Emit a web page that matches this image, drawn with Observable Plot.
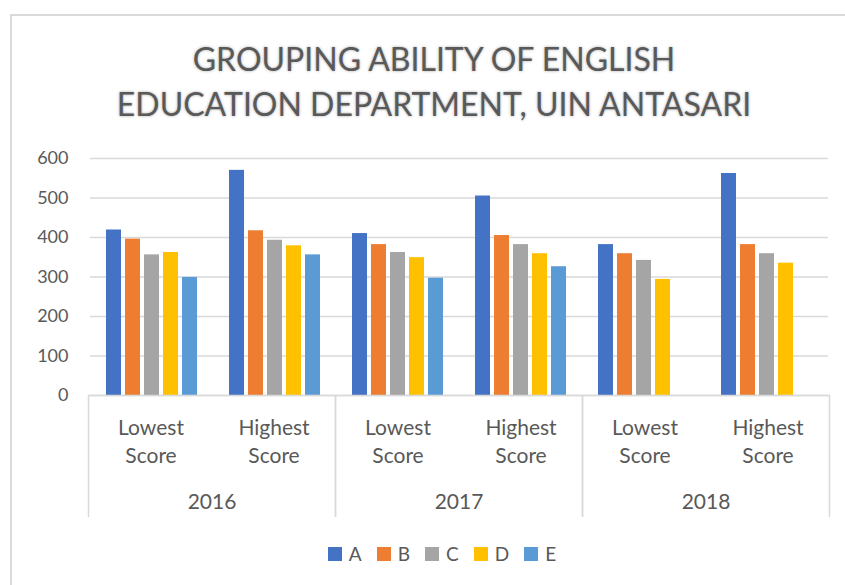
<!DOCTYPE html>
<html>
<head>
<meta charset="utf-8">
<script src="https://cdn.jsdelivr.net/npm/d3@7"></script>
<script src="https://cdn.jsdelivr.net/npm/@observablehq/plot@0.6"></script>
<style>
  html, body { margin: 0; padding: 0; background: #fff; overflow: hidden; width: 845px; height: 585px; }
  #frame { position: absolute; left: 10px; top: 14px; width: 860px; height: 600px; border: 2px solid #d9d9d9; box-sizing: border-box; }
  #title { position: absolute; left: 0; top: 36px; width: 868px; text-align: center; font-family: Lato, sans-serif; font-size: 32px; line-height: 45px; color: #595959; text-shadow: 0 0 3px rgba(0,0,0,0.35); }
  #plot1 { position: absolute; left: 0; top: 140px; }
  #plot2 { position: absolute; left: 0; top: 394px; }
  #legend { position: absolute; left: 0; top: 537px; width: 899px; }
  .lg-swatches { justify-content: center; }
  .lg-swatch { margin-right: 15px !important; }
  .lg-swatch svg { margin-right: 7px !important; }
</style>
</head>
<body>
<div id="frame"></div>
<div id="title">GROUPING ABILITY OF ENGLISH<br>EDUCATION DEPARTMENT, UIN ANTASARI</div>
<div id="plot1"></div>
<div id="plot2"></div>
<div id="legend"></div>
<script>
// ---- data ----
const years = ["2016", "2017", "2018"];
const scores = ["Lowest Score", "Highest Score"];
const series = ["A", "B", "C", "D", "E"];
const colors = ["#4472C4", "#ED7D31", "#A5A5A5", "#FFC000", "#5B9BD5"];
const yTicks = [0, 100, 200, 300, 400, 500, 600];
// values per series, in order: 2016 Lowest, 2016 Highest, 2017 Lowest, 2017 Highest, 2018 Lowest, 2018 Highest
const valuesA = [419, 570, 410, 505, 382, 562];
const valuesB = [396, 417, 382, 405, 359, 382];
const valuesC = [356, 393, 362, 382, 342, 359];
const valuesD = [362, 379, 349, 359, 294, 335];
const valuesE = [299, 356, 297, 326, null, null];

const valuesBySeries = {A: valuesA, B: valuesB, C: valuesC, D: valuesD, E: valuesE};
const cats = [];
years.forEach(y => scores.forEach(s => cats.push({year: y, score: s, key: y + " " + s})));
const table = [];
cats.forEach((c, i) => series.forEach(s => {
  const v = valuesBySeries[s][i];
  if (v != null) table.push({key: c.key, series: s, value: v});
}));

const font = "Lato, sans-serif";
const textColor = "#595959";

const p1 = Plot.plot({
  width: 845, height: 265,
  marginLeft: 87, marginRight: 15, marginTop: 18, marginBottom: 10,
  style: {fontFamily: font, fontSize: "18px", color: textColor, background: "transparent"},
  fx: {domain: cats.map(c => c.key), padding: 0, axis: null},
  x: {type: "band", domain: series, paddingInner: 0.22, paddingOuter: 0.82, axis: null},
  y: {domain: [0, 600]},
  color: {domain: series, range: colors},
  marks: [
    Plot.gridY(yTicks, {stroke: "#d9d9d9", strokeOpacity: 1, strokeWidth: 1.5}),
    Plot.axisY(yTicks, {tickSize: 0, tickPadding: 22, fontSize: 18, label: null, fill: textColor}),
    Plot.barY(table, {fx: "key", x: "series", y: "value", fill: "series"})
  ]
});
document.getElementById("plot1").append(p1);

const p2 = Plot.plot({
  width: 845, height: 123,
  marginLeft: 87, marginRight: 15, marginTop: 1, marginBottom: 0,
  style: {fontFamily: font, fontSize: "21px", color: textColor, overflow: "hidden", background: "transparent"},
  fx: {domain: years, padding: 0, axis: null},
  x: {type: "band", domain: scores, padding: 0, axis: null},
  marks: [
    Plot.frame({stroke: "#d9d9d9", strokeWidth: 1.5, insetBottom: -6}),
    Plot.text(cats, {fx: "year", x: "score", text: d => d.score.replace(" ", "\n"),
      frameAnchor: "top", lineAnchor: "top", dy: 19, lineHeight: 1.36, fontSize: 21, fill: textColor}),
    Plot.text(years, {fx: d => d, text: d => d, frameAnchor: "bottom", lineAnchor: "middle",
      dy: -15, fontSize: 21, fill: textColor})
  ]
});
document.getElementById("plot2").append(p2);

const lg = Plot.legend({
  color: {domain: series, range: colors},
  legend: "swatches", swatchSize: 14, className: "lg",
  style: {fontFamily: font, fontSize: "19px", color: textColor}
});
document.getElementById("legend").append(lg);
</script>
</body>
</html>
